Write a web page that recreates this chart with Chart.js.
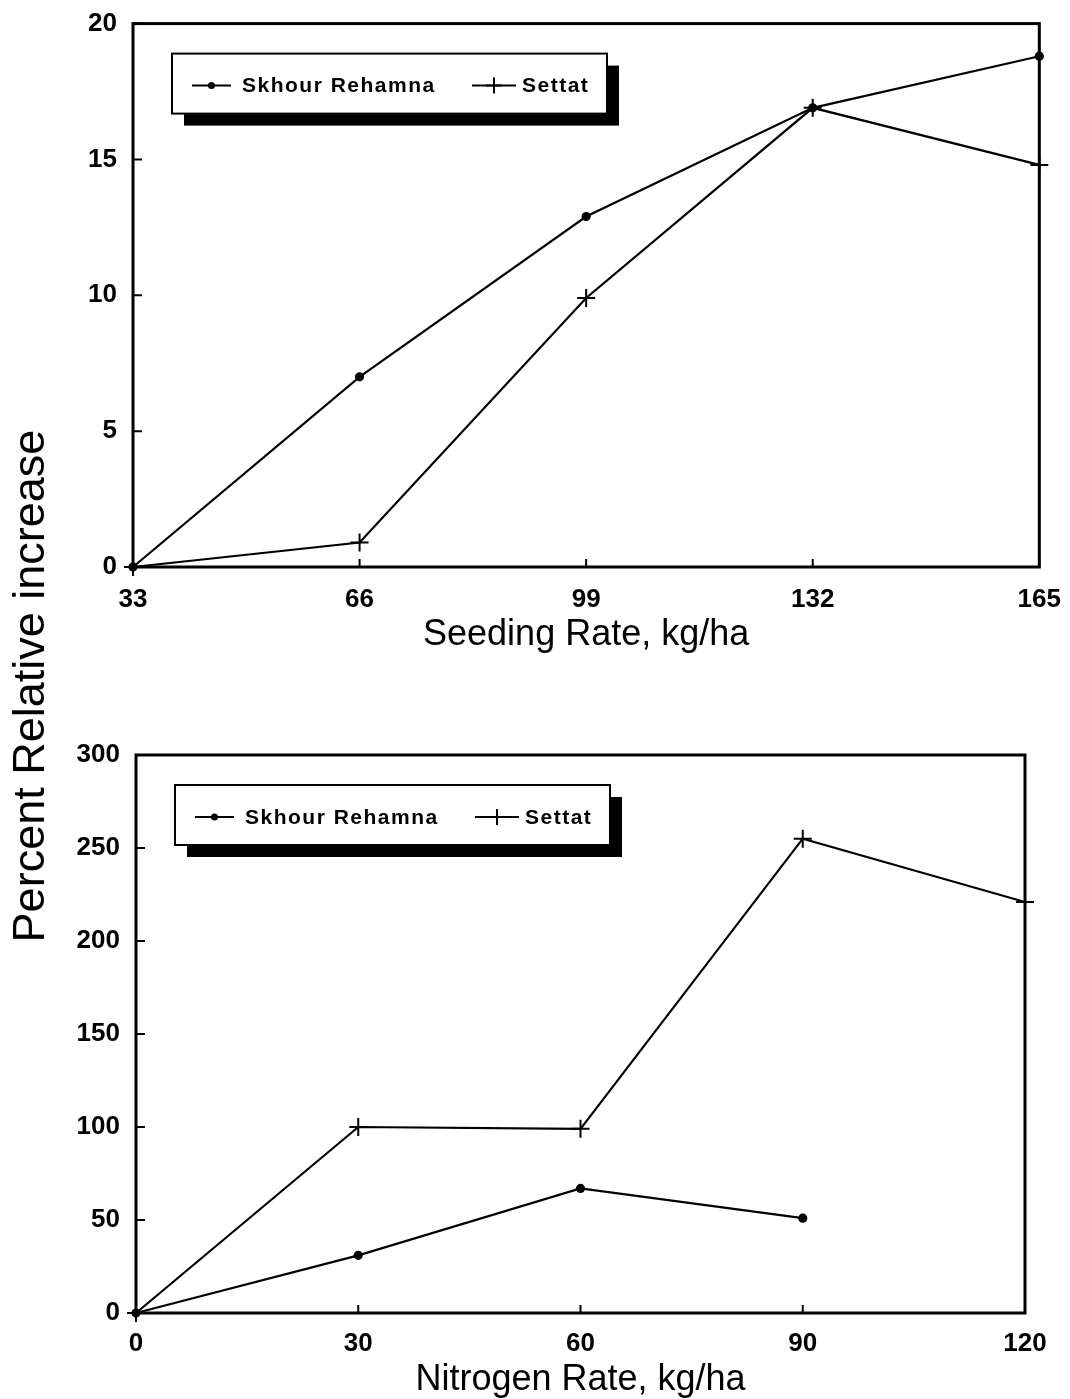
<!DOCTYPE html>
<html>
<head>
<meta charset="utf-8">
<title>Percent Relative increase</title>
<script src="https://cdn.jsdelivr.net/npm/chart.js@4.4.0/dist/chart.umd.min.js"></script>
<style>
  body { margin: 0; background: #fff; width: 1070px; height: 1399px; position: relative; overflow: hidden; }
  canvas { position: absolute; left: 0; }
  #seedChart { top: 0; }
  #nitroChart { top: 700px; }
  #yTitle {
    position: absolute; left: -274px; top: 663px; width: 600px; height: 46px;
    line-height: 46px; text-align: center; color: #000;
    font: 45px "Liberation Sans", Arial, sans-serif;
    transform: rotate(-90deg);
  }
</style>
</head>
<body>
<canvas id="seedChart" width="1070" height="700"></canvas>
<canvas id="nitroChart" width="1070" height="699"></canvas>
<div id="yTitle">Percent Relative increase</div>
<script>
// Series names (shared by both panels)
const seriesNames = ["Skhour Rehamna", "Settat"];

// Top panel: seeding rate
const seedRates = [33, 66, 99, 132, 165];
const seedSkhour = [0, 7.0, 12.9, 16.9, 18.8];
const seedSettat = [0, 0.9, 9.9, 16.9, 14.8];
const seedTicks = [0, 5, 10, 15, 20];

// Bottom panel: nitrogen rate
const nitroRates = [0, 30, 60, 90, 120];
const nitroSkhour = [0, 31, 67, 51, null];
const nitroSettat = [0, 100, 99, 255, 221];
const nitroTicks = [0, 50, 100, 150, 200, 250, 300];

Chart.defaults.font.family = '"Liberation Sans", Arial, sans-serif';
Chart.defaults.color = "#000";

// Draw one legend/point marker by hand
function drawMarker(ctx, style, x, y, size) {
  ctx.beginPath();
  if (style === "cross") {
    ctx.moveTo(x - size, y); ctx.lineTo(x + size, y);
    ctx.moveTo(x, y - size); ctx.lineTo(x, y + size);
    ctx.stroke();
  } else {
    ctx.arc(x, y, 3.5, 0, Math.PI * 2);
    ctx.fill();
  }
}

// Box round the plot area plus inward tick marks
const framePlugin = {
  id: "frame",
  beforeDatasetsDraw(chart) {
    const { ctx, chartArea: a, scales } = chart;
    ctx.save();
    ctx.strokeStyle = "#000";
    ctx.lineWidth = 3;
    ctx.strokeRect(a.left, a.top, a.right - a.left, a.bottom - a.top);
    ctx.lineWidth = 2;
    ctx.beginPath();
    scales.y.ticks.forEach(t => {
      const py = scales.y.getPixelForValue(t.value);
      ctx.moveTo(a.left, py); ctx.lineTo(a.left + 9, py);
    });
    scales.x.ticks.forEach(t => {
      const px = scales.x.getPixelForValue(t.value);
      ctx.moveTo(px, a.bottom); ctx.lineTo(px, a.bottom - 8);
    });
    ctx.stroke();
    ctx.restore();
  }
};

// Legend box with a heavy drop shadow
const legendPlugin = {
  id: "shadowLegend",
  afterDraw(chart) {
    const { ctx, chartArea: a } = chart;
    const bx = a.left + 39, by = a.top + 30, bw = 435, bh = 60;
    ctx.save();
    ctx.fillStyle = "#000";
    ctx.fillRect(bx + 12, by + 12, bw, bh);
    ctx.fillStyle = "#fff";
    ctx.fillRect(bx, by, bw, bh);
    ctx.strokeStyle = "#000";
    ctx.lineWidth = 2;
    ctx.strokeRect(bx, by, bw, bh);

    const starts = [20, 300];
    const lens = [39, 44];
    const ly = by + 32;
    ctx.font = 'bold 21px "Liberation Sans", Arial, sans-serif';
    ctx.letterSpacing = "1.5px";
    ctx.textBaseline = "middle";
    ctx.fillStyle = "#000";
    chart.data.datasets.forEach((ds, i) => {
      const x0 = bx + starts[i];
      ctx.lineWidth = 2;
      ctx.beginPath();
      ctx.moveTo(x0, ly); ctx.lineTo(x0 + lens[i], ly);
      ctx.stroke();
      drawMarker(ctx, ds.pointStyle, x0 + lens[i] / 2, ly, 8);
      ctx.fillText(ds.label, x0 + lens[i] + (i === 0 ? 11 : 6), ly + 1);
    });
    ctx.restore();
  }
};

function makeDatasets(rates, skhour, settat) {
  return [
    {
      label: seriesNames[0],
      data: rates.map((x, i) => ({ x: x, y: skhour[i] })),
      borderColor: "#000",
      backgroundColor: "#000",
      borderWidth: 2.2,
      pointStyle: "circle",
      pointRadius: 3.5,
      pointBackgroundColor: "#000",
      tension: 0,
      clip: false
    },
    {
      label: seriesNames[1],
      data: rates.map((x, i) => ({ x: x, y: settat[i] })),
      borderColor: "#000",
      backgroundColor: "#000",
      borderWidth: 2.2,
      pointStyle: "cross",
      pointRadius: 9,
      pointBorderWidth: 2,
      tension: 0,
      clip: false
    }
  ];
}

function makeChart(id, cfg) {
  new Chart(document.getElementById(id), {
    type: "line",
    data: { datasets: makeDatasets(cfg.rates, cfg.skhour, cfg.settat) },
    options: {
      responsive: false,
      animation: false,
      layout: { padding: cfg.padding },
      plugins: { legend: { display: false }, tooltip: { enabled: false } },
      scales: {
        x: {
          type: "linear",
          min: cfg.rates[0],
          max: cfg.rates[cfg.rates.length - 1],
          afterBuildTicks: s => { s.ticks = cfg.rates.map(v => ({ value: v })); },
          afterFit: s => { s.height = cfg.xHeight; },
          grid: { display: false },
          border: { display: false },
          ticks: { font: { size: 26, weight: "bold" }, padding: cfg.xPad, maxRotation: 0, autoSkip: false },
          title: {
            display: true,
            text: cfg.xTitle,
            font: { size: 36, lineHeight: 1 },
            padding: { top: 0, bottom: cfg.titlePad }
          }
        },
        y: {
          min: cfg.yTicks[0],
          max: cfg.yTicks[cfg.yTicks.length - 1],
          afterBuildTicks: s => { s.ticks = cfg.yTicks.map(v => ({ value: v })); },
          afterFit: s => { s.width = cfg.yWidth; },
          grid: { display: false },
          border: { display: false },
          ticks: { font: { size: 26, weight: "bold" }, padding: 8 }
        }
      }
    },
    plugins: [framePlugin, legendPlugin]
  });
}

makeChart("seedChart", {
  rates: seedRates, skhour: seedSkhour, settat: seedSettat, yTicks: seedTicks,
  xTitle: "Seeding Rate, kg/ha",
  padding: { top: 18, right: 28, left: 0, bottom: 0 },
  xHeight: 133, yWidth: 133, xPad: 9, titlePad: 47
});

makeChart("nitroChart", {
  rates: nitroRates, skhour: nitroSkhour, settat: nitroSettat, yTicks: nitroTicks,
  xTitle: "Nitrogen Rate, kg/ha",
  padding: { top: 55, right: 45, left: 0, bottom: 0 },
  xHeight: 86, yWidth: 136, xPad: 7, titlePad: 1
});
</script>
</body>
</html>
